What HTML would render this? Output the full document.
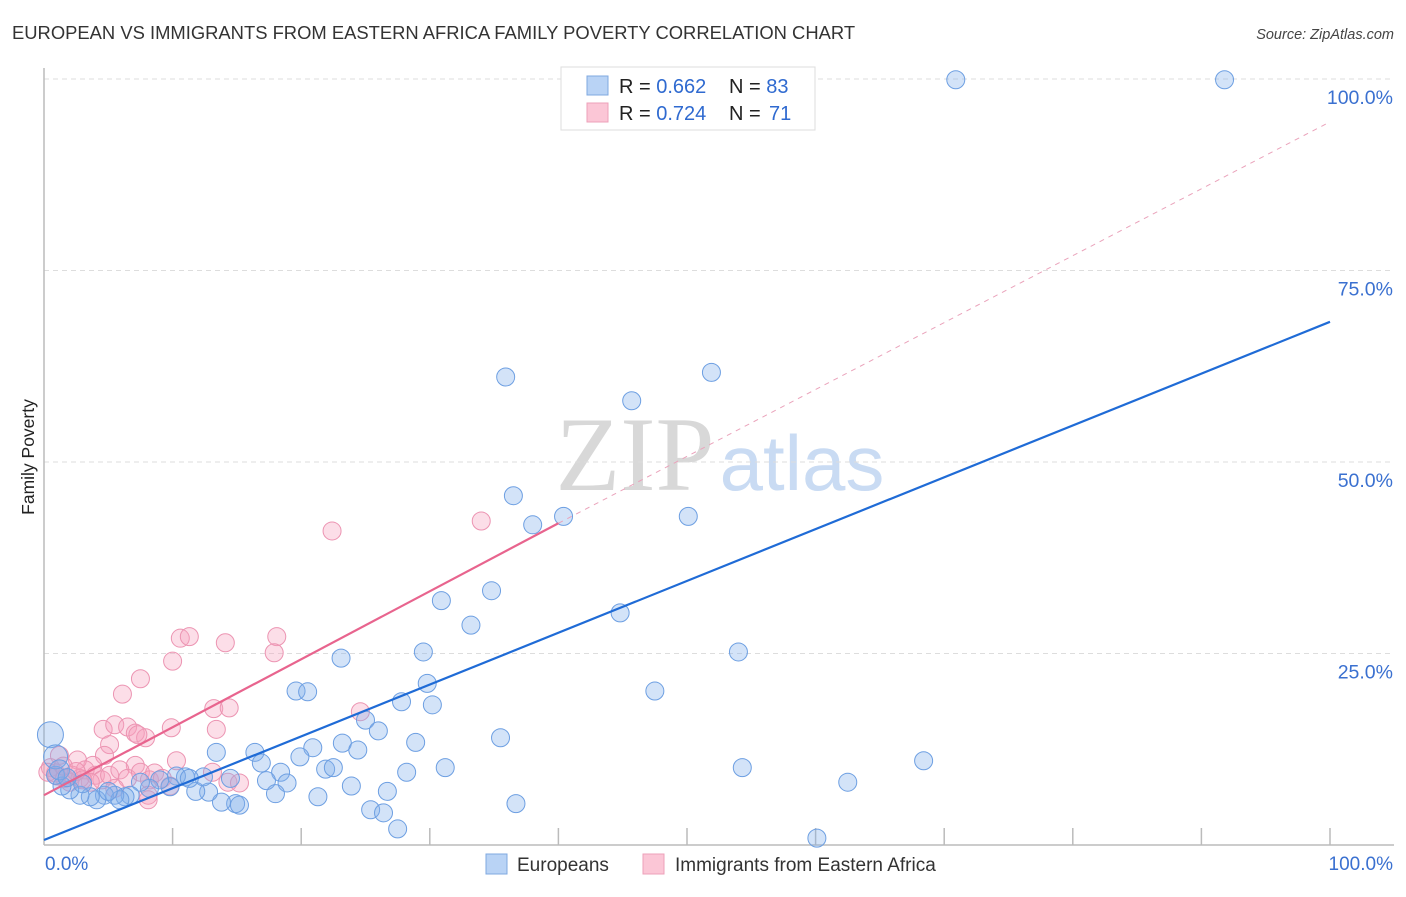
<!DOCTYPE html>
<html><head><meta charset="utf-8"><style>
body{margin:0;background:#fff;font-family:"Liberation Sans",sans-serif;}
svg text{font-family:"Liberation Sans",sans-serif;}
</style></head><body>
<svg id="chart" width="1406" height="892">
<text x="12" y="39" font-size="18.4" fill="#333">EUROPEAN VS IMMIGRANTS FROM EASTERN AFRICA FAMILY POVERTY CORRELATION CHART</text>
<text x="1394" y="39" font-size="14.5" fill="#444" font-style="italic" text-anchor="end">Source: ZipAtlas.com</text>
<text x="34" y="457" font-size="17.5" fill="#222" transform="rotate(-90 34 457)" text-anchor="middle">Family Poverty</text>
<g>
<text x="635" y="490" font-size="106" fill="#d8d8d8" text-anchor="middle" style="font-family:'Liberation Serif',serif">ZIP</text>
<text x="802" y="490" font-size="78" fill="#c9dbf3" text-anchor="middle">atlas</text>
</g>
<g id="grid"></g>
<g id="marks"></g>
<g>
<rect x="561" y="67" width="254" height="63" fill="#fff" stroke="#ddd"/>
<rect x="587" y="76" width="21" height="19" fill="#b9d3f5" stroke="#7fa8e0"/>
<rect x="587" y="103" width="21" height="19" fill="#fbc6d6" stroke="#eea0b9"/>
<text x="619" y="93" font-size="20" fill="#222">R = <tspan fill="#2f6ad0">0.662</tspan></text>
<text x="729" y="93" font-size="20" fill="#222">N = <tspan fill="#2f6ad0">83</tspan></text>
<text x="619" y="120" font-size="20" fill="#222">R = <tspan fill="#2f6ad0">0.724</tspan></text>
<text x="729" y="120" font-size="20" fill="#222">N = <tspan x="769" fill="#2f6ad0">71</tspan></text>
</g>
<g>
<rect x="486" y="854" width="21" height="20" fill="#b9d3f5" stroke="#7fa8e0"/>
<text x="517" y="871" font-size="19" fill="#333">Europeans</text>
<rect x="643" y="854" width="21" height="20" fill="#fbc6d6" stroke="#eea0b9"/>
<text x="675" y="871" font-size="19" fill="#333">Immigrants from Eastern Africa</text>
</g>
<text x="45" y="870" font-size="19" fill="#3a70d0">0.0%</text>
<text x="1393" y="870" font-size="19" fill="#3a70d0" text-anchor="end">100.0%</text>
</svg>
<script>
const yTicks=[25,50,75,100];
const yTickLabels=["25.0%","50.0%","75.0%","100.0%"];
const blueX=[70.9,91.8,35.9,51.9,45.7,36.5,38.0,40.4,50.1,34.8,30.9,33.2,44.8,29.5,54.0,23.1,47.5,19.6,20.5,29.8,27.8,30.2,25.0,26.0,23.2,24.4,20.9,28.9,35.5,13.4,16.4,16.9,19.9,18.4,21.9,22.5,28.2,31.2,54.3,68.4,62.5,18.9,17.3,23.9,26.7,21.3,25.4,26.4,27.5,36.7,60.1,18.0,14.9,15.2,13.8,12.8,11.8,14.5,12.4,11.0,10.3,11.3,9.8,9.0,8.2,7.5,6.7,6.3,5.5,4.7,4.1,3.6,2.8,2.0,1.4,0.9,0.5,0.9,1.2,5.9,5.0,3.0,1.8];
const blueY=[99.9,99.9,61.1,61.7,58.0,45.6,41.8,42.9,42.9,33.2,31.9,28.7,30.3,25.2,25.2,24.4,20.1,20.1,20.0,21.1,18.7,18.3,16.3,14.9,13.3,12.4,12.7,13.4,14.0,12.1,12.1,10.7,11.5,9.5,9.9,10.1,9.5,10.1,10.1,11.0,8.2,8.1,8.4,7.7,7.0,6.3,4.6,4.2,2.1,5.4,0.9,6.7,5.4,5.2,5.6,6.9,7.0,8.7,8.9,8.9,9.0,8.7,7.6,8.5,7.4,8.2,6.5,6.3,6.5,6.5,5.9,6.3,6.5,7.2,7.7,9.1,14.4,11.5,9.8,5.9,7.0,8.0,8.8];
const blueR=[9,9,9,9,9,9,9,9,9,9,9,9,9,9,9,9,9,9,9,9,9,9,9,9,9,9,9,9,9,9,9,9,9,9,9,9,9,9,9,9,9,9,9,9,9,9,9,9,9,9,9,9,9,9,9,9,9,9,9,9,9,9,9,9,9,9,9,9,9,9,9,9,9,9,9,9,13,12,10,9,9,9,9];
const pinkX=[22.4,34.0,10.6,11.3,14.1,18.1,17.9,10.0,7.5,6.1,13.2,14.4,24.6,9.9,4.6,5.5,6.5,7.1,7.9,13.4,5.1,7.3,10.3,7.1,4.7,3.8,2.6,1.2,0.5,0.9,1.6,2.2,3.2,4.0,4.5,5.1,5.9,6.5,7.5,8.2,8.6,9.2,9.8,8.1,5.5,13.1,14.3,15.2,8.1,3.6,2.8,2.0,1.0,0.3,1.5,2.5,3.0];
const pinkY=[41.0,42.3,27.0,27.2,26.4,27.2,25.1,24.0,21.7,19.7,17.8,17.9,17.4,15.3,15.1,15.7,15.4,14.6,14.0,15.1,13.1,14.4,11.0,10.4,11.7,10.4,11.1,11.7,10.1,9.4,8.7,9.1,9.8,9.1,8.5,9.1,9.8,8.7,9.5,8.5,9.4,8.7,7.7,6.5,7.4,9.5,8.2,8.1,5.9,8.2,8.7,8.2,9.0,9.5,10.3,9.6,8.5];
const blueLine=[0.65,68.3];
const pinkLine=[6.5,42.0];
const pinkDash=94.4;
const NS="http://www.w3.org/2000/svg";
const X=v=>44+v*12.86, Y=v=>845-v*7.66;
const grid=document.getElementById('grid'), marks=document.getElementById('marks');
function mk(tag,at,parent){const e=document.createElementNS(NS,tag);for(const k in at)e.setAttribute(k,at[k]);parent.appendChild(e);return e;}
yTicks.forEach((t,i)=>{
 const l=mk('line',{x1:44,x2:1394,y1:Y(t),y2:Y(t),stroke:'#ddd','stroke-dasharray':'5,4'},grid);
 
 
 const tx=mk('text',{x:1393,y:Y(t)+25,'font-size':19.5,fill:'#3a70d0','text-anchor':'end'},grid);
 tx.textContent=yTickLabels[i];
 
 
});
const ax=mk('line',{x1:44,x2:44,y1:68,y2:845,stroke:'#bbb','stroke-width':1.5},grid);


const bx=mk('line',{x1:44,x2:1394,y1:845,y2:845,stroke:'#bbb','stroke-width':1.5},grid);


for(let i=1;i<=10;i++){const t=mk('line',{x1:X(i*10),x2:X(i*10),y1:828,y2:845,stroke:'#bbb','stroke-width':1.5},grid);
 
 }
pinkX.forEach((x,i)=>{const c=mk('circle',{cx:X(x),cy:Y(pinkY[i]),r:9,fill:'rgba(245,160,190,0.35)',stroke:'#ec94b2','stroke-width':1},marks);
 
 });
blueX.forEach((x,i)=>{const c=mk('circle',{cx:X(x),cy:Y(blueY[i]),r:blueR[i],fill:'rgba(130,175,235,0.35)',stroke:'#6d9fe2','stroke-width':1},marks);
 
 });
const d=mk('line',{x1:X(40),y1:Y(pinkLine[1]),x2:X(100),y2:Y(pinkDash),stroke:'#eaa3bb','stroke-dasharray':'5,5','stroke-width':1},marks);


const pl=mk('line',{x1:X(0),y1:Y(pinkLine[0]),x2:X(40),y2:Y(pinkLine[1]),stroke:'#e8648e','stroke-width':2.2},marks);


const bl=mk('line',{x1:X(0),y1:Y(blueLine[0]),x2:X(100),y2:Y(blueLine[1]),stroke:'#1f6bd6','stroke-width':2.2},marks);


</script>
</body></html>
